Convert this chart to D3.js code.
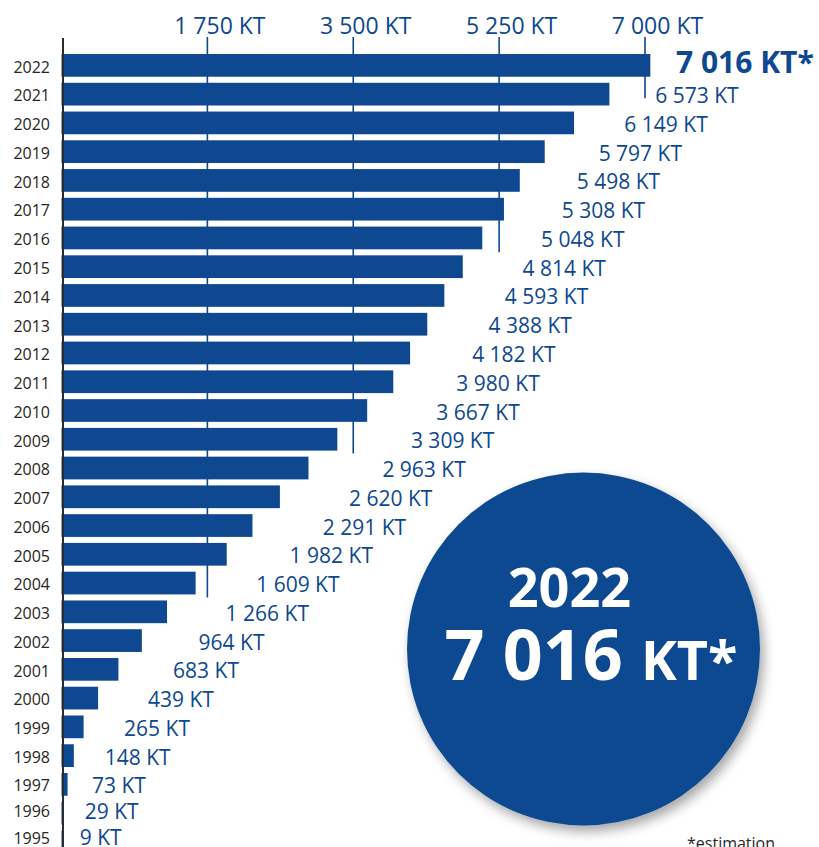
<!DOCTYPE html>
<html>
<head>
<meta charset="utf-8">
<script src="https://cdn.jsdelivr.net/npm/d3@7"></script>
<style>
  html, body { margin: 0; padding: 0; background: #fff; }
  svg { display: block; font-family: "Open Sans", "Noto Sans", sans-serif; }
</style>
</head>
<body>
<svg id="chart" width="819" height="847"></svg>
<script>
// ---- data ----
const years = [2022, 2021, 2020, 2019, 2018, 2017, 2016, 2015, 2014, 2013, 2012, 2011, 2010, 2009,
               2008, 2007, 2006, 2005, 2004, 2003, 2002, 2001, 2000, 1999, 1998, 1997, 1996, 1995];
const values = [7016, 6573, 6149, 5797, 5498, 5308, 5048, 4814, 4593, 4388, 4182, 3980, 3667, 3309,
                2963, 2620, 2291, 1982, 1609, 1266, 964, 683, 439, 265, 148, 73, 29, 9];
const tickValues = [1750, 3500, 5250, 7000];
const unit = "KT";
const estimateMark = "*";
const footnote = "*estimation";

// ---- layout ----
const W = 819, H = 847;
const blue = "#0d4890";
const svg = d3.select("#chart");
const fmt = d3.formatLocale({ thousands: "\u00a0", grouping: [3], decimal: "," }).format(",");

const x = d3.scaleLinear().domain([0, 7000]).range([61.5, 645]);
const y = d3.scaleBand().domain(years).range([51, 51 + 28 * 28.76]).paddingInner(0.21).paddingOuter(0.105);
// text rows are slightly compressed near the bottom edge, as in the original
const textY = d => {
  const c = y(d.year) + y.bandwidth() / 2;
  return c - Math.max(0, c - 780) * 0.09;
};

// gap between bar end and its value label (hand-placed in the original), as a curve over value
const labelGap = d3.scaleLinear()
  .domain([0, 30, 75, 150, 265, 440, 700, 1000, 1600, 2000, 2300, 2650, 3000, 3300, 3700, 4000, 5000, 5500, 6600])
  .range([16, 21, 24.5, 31, 40.5, 50, 55, 57, 60.5, 63, 70.5, 69, 74.5, 73.7, 68.8, 62.7, 59, 57, 45.6]);

const data = years.map((yr, i) => ({ year: yr, value: values[i] }));

// shadow filter for the circle
const defs = svg.append("defs");
const f = defs.append("filter").attr("id", "shadow").attr("x", "-20%").attr("y", "-20%").attr("width", "150%").attr("height", "150%");
f.append("feDropShadow").attr("dx", 4).attr("dy", 6).attr("stdDeviation", 6)
  .attr("flood-color", "#000").attr("flood-opacity", 0.35);

// ---- tick lines (behind bars) ----
const tickG = svg.append("g");
tickValues.forEach(t => {
  const first = data.find(d => d.value < t);
  const lx = x(t);
  let yEnd = y(first.year) + y.bandwidth() + 3;
  const labelStart = x(first.value) + labelGap(first.value);
  if (labelStart - lx < 20) yEnd = y(first.year) + y.bandwidth() / 2 + 4;
  tickG.append("line")
    .attr("x1", lx).attr("x2", lx).attr("y1", 37).attr("y2", yEnd)
    .attr("stroke", blue).attr("stroke-width", 1.6);
  tickG.append("text")
    .attr("x", lx + 12.5).attr("y", 34)
    .attr("text-anchor", "middle")
    .attr("font-size", 23).attr("fill", blue)
    .text(fmt(t) + " " + unit);
});

// ---- bars ----
svg.append("g").selectAll("rect").data(data).join("rect")
  .attr("x", x(0))
  .attr("y", d => y(d.year))
  .attr("width", d => x(d.value) - x(0) + (d.year === years[0] ? 4 : 0))
  .attr("height", y.bandwidth())
  .attr("fill", blue);

// ---- left axis line ----
svg.append("line").attr("x1", 63).attr("x2", 63).attr("y1", 38).attr("y2", H)
  .attr("stroke", "#2b2b2b").attr("stroke-width", 2);

// ---- year labels ----
svg.append("g").selectAll("text").data(data).join("text")
  .attr("x", 50).attr("y", d => textY(d) + 7.3)
  .attr("text-anchor", "end").attr("font-size", 16).attr("fill", "#262626")
  .text(d => d.year);

// ---- value labels ----
svg.append("g").selectAll("text").data(data.slice(1)).join("text")
  .attr("x", d => x(d.value) + labelGap(d.value))
  .attr("y", d => textY(d) + 9)
  .attr("font-size", 21).attr("fill", blue)
  .text(d => fmt(d.value) + " " + unit);

// highlighted latest value
svg.append("text")
  .attr("x", 676).attr("y", y(years[0]) + y.bandwidth() / 2 + 8)
  .attr("font-size", 30).attr("font-weight", 700).attr("fill", blue)
  .text(fmt(values[0]) + " " + unit + estimateMark);

// ---- circle ----
const cx = 583.5, cy = 649, r = 176.5;
svg.append("circle").attr("cx", cx).attr("cy", cy).attr("r", r)
  .attr("fill", blue).attr("filter", "url(#shadow)");
svg.append("text").attr("x", 569.5).attr("y", 607)
  .attr("text-anchor", "middle").attr("font-size", 54).attr("font-weight", 700).attr("fill", "#fff")
  .text(years[0]);
const big = svg.append("text").attr("x", 591).attr("y", 680)
  .attr("text-anchor", "middle").attr("font-weight", 700).attr("fill", "#fff");
big.append("tspan").attr("font-size", 70).text(fmt(values[0]) + " ");
big.append("tspan").attr("font-size", 54).text(unit + estimateMark);

// ---- footnote ----
svg.append("text").attr("x", 687).attr("y", 849)
  .attr("font-size", 16).attr("fill", "#262626").text(footnote);
</script>
</body>
</html>
